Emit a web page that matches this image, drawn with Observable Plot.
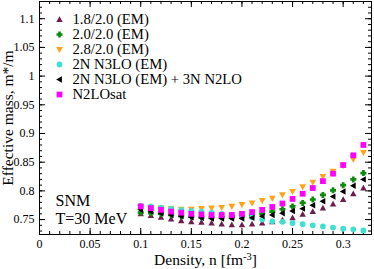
<!DOCTYPE html>
<html>
<head>
<meta charset="utf-8">
<script src="https://cdn.jsdelivr.net/npm/d3@7"></script>
<script src="https://cdn.jsdelivr.net/npm/@observablehq/plot@0.6"></script>
<style>
  html, body { margin: 0; padding: 0; background: #fff; }
</style>
</head>
<body>
<div id="chart"></div>
<script>
// ---- data ----
const density = [0.10, 0.11, 0.12, 0.13, 0.14, 0.15, 0.16, 0.17, 0.18, 0.19, 0.20, 0.21,
                 0.22, 0.23, 0.24, 0.25, 0.26, 0.27, 0.28, 0.29, 0.30, 0.31, 0.32];

const seriesNames = ["1.8/2.0 (EM)", "2.0/2.0 (EM)", "2.8/2.0 (EM)", "2N N3LO (EM)",
                     "2N N3LO (EM) + 3N N2LO", "N2LOsat"];

const em18 = [0.760, 0.757, 0.754, 0.751, 0.748, 0.746, 0.745, 0.744, 0.742, 0.741, 0.741, 0.742,
              0.744, 0.746, 0.749, 0.753, 0.759, 0.764, 0.770, 0.777, 0.785, 0.795, 0.805];
const em20 = [0.762, 0.761, 0.760, 0.758, 0.756, 0.755, 0.754, 0.754, 0.754, 0.754, 0.755, 0.757,
              0.760, 0.764, 0.768, 0.773, 0.779, 0.785, 0.793, 0.801, 0.810, 0.820, 0.831];
const em28 = [0.772, 0.771, 0.770, 0.769, 0.768, 0.768, 0.769, 0.770, 0.771, 0.773, 0.776, 0.779,
              0.783, 0.787, 0.793, 0.799, 0.807, 0.815, 0.825, 0.834, 0.844, 0.855, 0.867];
const n3lo = [0.774, 0.773, 0.771, 0.769, 0.767, 0.765, 0.764, 0.762, 0.760, 0.758, 0.756, 0.754,
              0.750, 0.747, 0.746, 0.744, 0.742, 0.740, 0.738, 0.736, 0.734, 0.733, 0.731];
const n3lo3n = [0.767, 0.764, 0.761, 0.758, 0.756, 0.754, 0.753, 0.752, 0.752, 0.752, 0.752, 0.753,
                0.756, 0.758, 0.761, 0.765, 0.769, 0.775, 0.782, 0.790, 0.799, 0.809, 0.820];
const n2losat = [0.773, 0.770, 0.767, 0.764, 0.762, 0.760, 0.759, 0.758, 0.758, 0.758, 0.760, 0.763,
                 0.767, 0.772, 0.778, 0.786, 0.795, 0.805, 0.817, 0.830, 0.845, 0.862, 0.880];

const seriesValues = [em18, em20, em28, n3lo, n3lo3n, n2losat];

const xMajor = [0, 0.05, 0.1, 0.15, 0.2, 0.25, 0.3];
const xMinor = d3.range(0, 33).map(i => i / 100);
const yMajor = [0.75, 0.8, 0.85, 0.9, 0.95, 1, 1.05, 1.1];
const yMinor = d3.range(73, 114).map(i => i / 100);

const annotation = ["SNM", "T=30 MeV"];

// ---- styles ----
const colors = ["#6e1c4e", "#0d8a0d", "#ffa31a", "#40e0d0", "#000000", "#ff00ff"];

function poly(pts) {
  return {
    draw(ctx, size) {
      const r = Math.sqrt(size / Math.PI);
      ctx.moveTo(pts[0][0] * r, pts[0][1] * r);
      for (let k = 1; k < pts.length; k++) ctx.lineTo(pts[k][0] * r, pts[k][1] * r);
      ctx.closePath();
    }
  };
}
const triUp = poly([[0, -1.05], [1.0, 0.75], [-1.0, 0.75]]);
const triDown = poly([[0, 1.05], [1.0, -0.75], [-1.0, -0.75]]);
const triLeft = poly([[-1.05, 0], [0.75, -1.0], [0.75, 1.0]]);
const plusFat = poly([[-0.45, -1], [0.45, -1], [0.45, -0.45], [1, -0.45], [1, 0.45], [0.45, 0.45],
                      [0.45, 1], [-0.45, 1], [-0.45, 0.45], [-1, 0.45], [-1, -0.45], [-0.45, -0.45]]);
const square = poly([[-0.9, -0.9], [0.9, -0.9], [0.9, 0.9], [-0.9, 0.9]]);
const symbols = [triUp, plusFat, triDown, "circle", triLeft, square];
const radii = [3.2, 3.0, 3.4, 2.9, 3.2, 3.2];

const W = 374, H = 269;
const mL = 39, mR = 3, mT = 1, mB = 35;
const plotH = H - mT - mB;
const plotW = W - mL - mR;
const font = "'Liberation Serif', 'Times New Roman', serif";
const fmt = d => String(d);

const marks = [];
// ticks (inward, mirrored)
marks.push(Plot.tickX(xMajor, {x: d => d, insetTop: plotH - 6, stroke: "#000"}));
marks.push(Plot.tickX(xMinor, {x: d => d, insetTop: plotH - 3, stroke: "#000"}));
marks.push(Plot.tickX(xMajor, {x: d => d, insetBottom: plotH - 6, stroke: "#000"}));
marks.push(Plot.tickX(xMinor, {x: d => d, insetBottom: plotH - 3, stroke: "#000"}));
marks.push(Plot.tickY(yMajor, {y: d => d, insetRight: plotW - 6, stroke: "#000"}));
marks.push(Plot.tickY(yMinor, {y: d => d, insetRight: plotW - 3, stroke: "#000"}));
marks.push(Plot.tickY(yMajor, {y: d => d, insetLeft: plotW - 6, stroke: "#000"}));
marks.push(Plot.tickY(yMinor, {y: d => d, insetLeft: plotW - 3, stroke: "#000"}));

// data points
seriesValues.forEach((vals, s) => {
  const rows = density.map((n, i) => ({n, m: vals[i]}));
  marks.push(Plot.dot(rows, {x: "n", y: "m", symbol: () => symbols[s], r: radii[s], fill: colors[s], stroke: "none"}));
});

// legend
seriesNames.forEach((name, s) => {
  marks.push(Plot.dot([name], {frameAnchor: "top-left", dx: 20, dy: 18 + 15 * s, symbol: () => symbols[s], r: radii[s], fill: colors[s], stroke: "none"}));
  marks.push(Plot.text([name], {frameAnchor: "top-left", dx: 33, dy: 18 + 15 * s, text: d => d, textAnchor: "start", lineAnchor: "middle", fontSize: 14.7, fontFamily: font, fill: "#000"}));
});

// annotation
annotation.forEach((t, i) => {
  marks.push(Plot.text([t], {frameAnchor: "bottom-left", dx: 16, dy: -34 + 18 * i, text: d => d, textAnchor: "start", lineAnchor: "middle", fontSize: 16, fontFamily: font, fill: "#000"}));
});

marks.push(Plot.frame({stroke: "#000", strokeWidth: 1}));

const chart = Plot.plot({
  width: W, height: H,
  marginLeft: mL, marginRight: mR, marginTop: mT, marginBottom: mB,
  style: {fontFamily: font, fontSize: "12px", color: "#000", background: "#fff", overflow: "visible"},
  x: {domain: [0, 0.328], ticks: xMajor, tickSize: 0, tickPadding: 5, tickFormat: fmt, label: "Density, n [fm-3]",
      labelAnchor: "center", labelOffset: 30, labelArrow: "none"},
  y: {domain: [0.724, 1.13], ticks: yMajor, tickSize: 0, tickPadding: 5, tickFormat: fmt, label: "Effective mass, m*/m",
      labelAnchor: "center", labelOffset: 38, labelArrow: "none"},
  marks
});
document.getElementById("chart").appendChild(chart);

// axis label font sizes and superscript
chart.querySelectorAll('[aria-label="x-axis label"] text, [aria-label="y-axis label"] text').forEach(t => {
  t.setAttribute("font-size", "15.5");
  t.setAttribute("font-family", font);
});
const xl = chart.querySelector('[aria-label="x-axis label"] text');
if (xl) {
  xl.textContent = "";
  const ns = "http://www.w3.org/2000/svg";
  const a = document.createElementNS(ns, "tspan"); a.textContent = "Density, n [fm";
  const b = document.createElementNS(ns, "tspan"); b.textContent = "-3"; b.setAttribute("dy", "-5"); b.setAttribute("font-size", "10.5");
  const c = document.createElementNS(ns, "tspan"); c.textContent = "]"; c.setAttribute("dy", "5");
  xl.append(a, b, c);
}
</script>
</body>
</html>
